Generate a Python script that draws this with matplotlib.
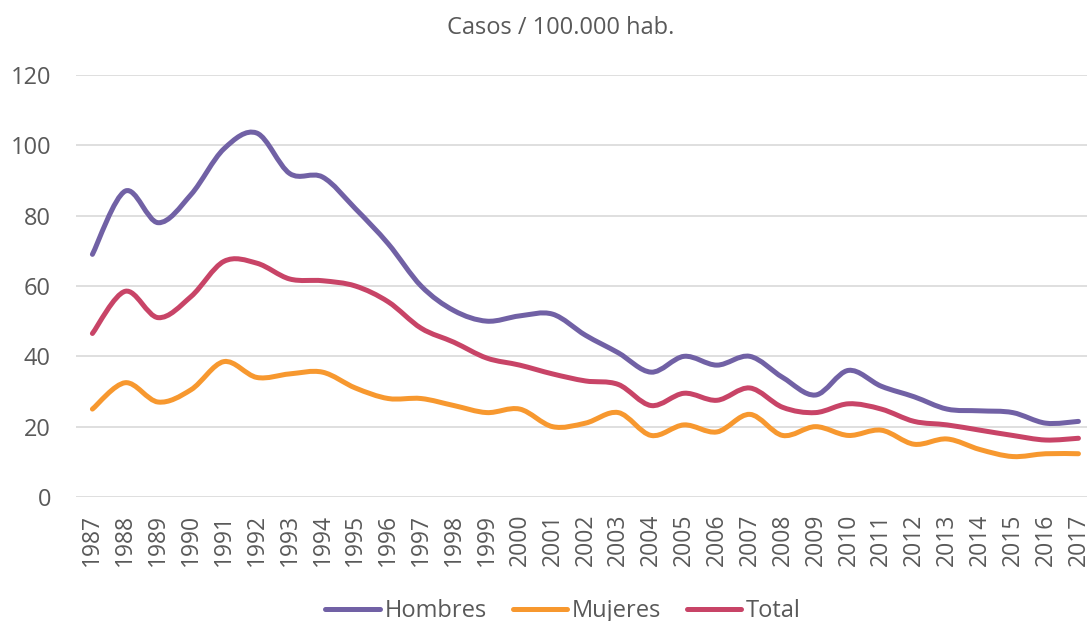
import matplotlib
matplotlib.use('Agg')
import matplotlib.pyplot as plt
import numpy as np
from matplotlib.path import Path
from matplotlib.patches import PathPatch
from matplotlib.lines import Line2D

plt.rcParams['font.family'] = ['Open Sans', 'DejaVu Sans']

years = list(range(1987, 2018))
hombres = [69, 87, 78, 86, 99, 103.5, 92, 91, 82, 72, 60, 53, 50, 51.5, 52,
           46, 41, 35.5, 40, 37.5, 40, 34, 29, 36, 31.5, 28.5, 25, 24.5, 24,
           21, 21.5]
mujeres = [25, 32.5, 27, 30.5, 38.5, 34, 35, 35.5, 31, 28, 28, 26, 24, 25, 20,
           21, 24, 17.5, 20.5, 18.5, 23.5, 17.5, 20, 17.5, 19, 15, 16.5, 13.5,
           11.5, 12.3, 12.3]
total = [46.5, 58.5, 51, 57, 67, 66.5, 62, 61.5, 60, 55.5, 48, 44, 39.5, 37.5,
         35, 33, 32, 26, 29.5, 27.5, 31, 25.5, 24, 26.5, 25, 21.5, 20.5, 19,
         17.5, 16.2, 16.7]

series = [('Hombres', hombres, '#7161A5'),
          ('Mujeres', mujeres, '#F7982F'),
          ('Total', total, '#C84467')]

TEXT = '#595959'


def smooth_path(x, y):
    # bezier segments like a spreadsheet "smoothed line"
    pts = np.column_stack([x, y]).astype(float)
    n = len(pts)
    verts = [pts[0]]
    codes = [Path.MOVETO]
    for i in range(n - 1):
        p0 = pts[i - 1] if i > 0 else pts[i]
        p1 = pts[i]
        p2 = pts[i + 1]
        p3 = pts[i + 2] if i + 2 < n else pts[i + 1]
        c1 = p1 + (p2 - p0) / 6
        c2 = p2 - (p3 - p1) / 6
        verts += [c1, c2, p2]
        codes += [Path.CURVE4] * 3
    return Path(verts, codes)


fig = plt.figure(figsize=(10.87, 6.21), dpi=100)
ax = fig.add_axes([0.0699, 0.1997, 0.9301, 0.6795])

handles = []
for name, vals, color in series:
    patch = PathPatch(smooth_path(years, vals), fill=False, edgecolor=color,
                      lw=3.6, capstyle='round', joinstyle='round', zorder=3)
    ax.add_patch(patch)
    handles.append(Line2D([], [], color=color, lw=3.6,
                          solid_capstyle='round', label=name))

ax.set_xlim(1986.5, 2017.26)
ax.set_ylim(0, 120)
ax.set_yticks(range(0, 121, 20))
ax.set_xticks(years)
ax.set_xticklabels([str(y) for y in years], rotation=90)
ax.grid(axis='y', color='#D9D9D9', lw=1.2)
ax.set_axisbelow(True)
for s in ax.spines.values():
    s.set_visible(False)
ax.tick_params(axis='y', length=0, pad=18, labelsize=17, labelcolor=TEXT)
ax.tick_params(axis='x', length=0, pad=12, labelsize=16.5, labelcolor=TEXT)

fig.text(0.516, 0.955, 'Casos / 100.000 hab.', ha='center', va='center',
         fontsize=17, color=TEXT)

fig.legend(handles=handles, loc='center', bbox_to_anchor=(0.518, 0.016),
           ncol=3, frameon=False, fontsize=17, labelcolor=TEXT,
           handlelength=2.3, handletextpad=0.2, columnspacing=1.1)

fig.savefig('out.png', dpi=100)
